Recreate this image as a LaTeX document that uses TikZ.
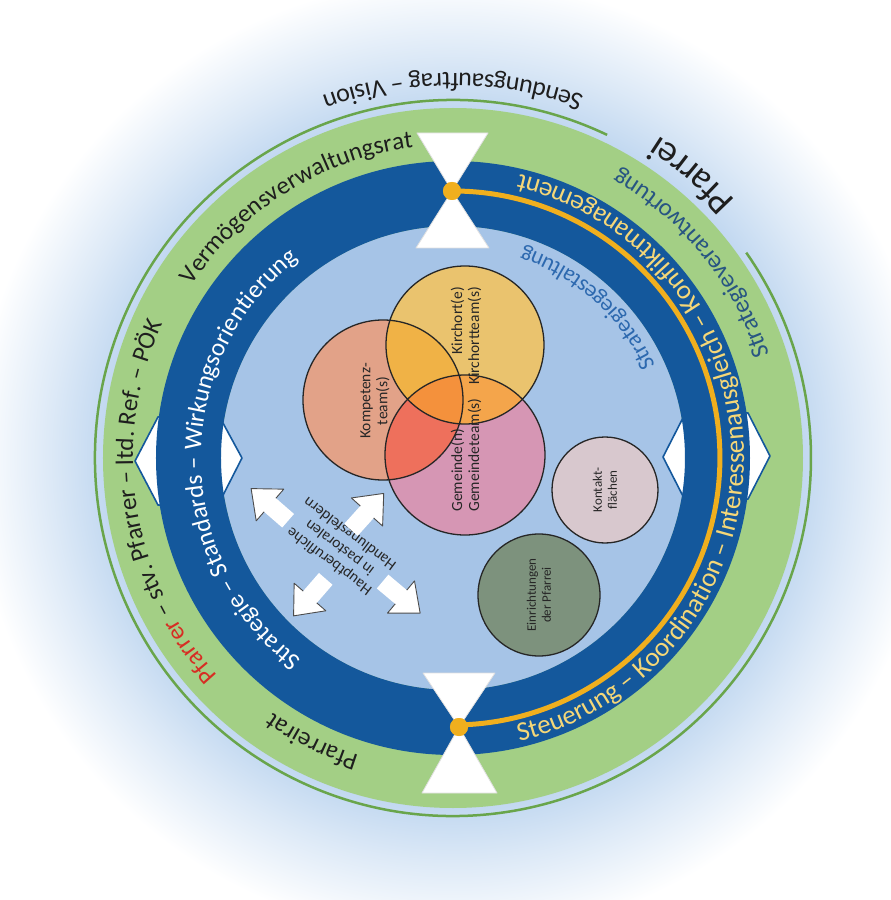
\documentclass[tikz,border=0pt]{standalone}
\usepackage{fontspec}
\setmainfont{Carlito}
\usetikzlibrary{decorations.text}
\definecolor{ringgreen}{RGB}{163,207,133}
\definecolor{ringblue}{RGB}{20,88,156}
\definecolor{innerblue}{RGB}{166,196,231}
\definecolor{linegreen}{RGB}{105,165,75}
\definecolor{goldline}{RGB}{240,175,30}
\definecolor{halo}{RGB}{192,215,240}
\definecolor{txtyellow}{RGB}{245,215,120}
\definecolor{txtblue}{RGB}{45,105,175}
\definecolor{txtteal}{RGB}{40,85,130}
\definecolor{txtdark}{RGB}{30,30,30}
\definecolor{pfred}{RGB}{215,45,35}
\definecolor{cA}{RGB}{226,162,136}
\definecolor{cB}{RGB}{234,195,110}
\definecolor{cC}{RGB}{214,150,180}
\definecolor{cAB}{RGB}{240,178,70}
\definecolor{cAC}{RGB}{238,112,92}
\definecolor{cBC}{RGB}{244,165,75}
\definecolor{cABC}{RGB}{244,145,60}
\definecolor{kontakt}{RGB}{216,200,206}
\definecolor{einr}{RGB}{125,146,125}
\pgfdeclareradialshading{haloshade}{\pgfpoint{0bp}{0bp}}{color(0bp)=(halo); color(18bp)=(halo); color(21bp)=(halo!55!white); color(25bp)=(white); color(50bp)=(white)}
\newcommand\ringfont[1]{\fontsize{#1}{#1}\selectfont}
\newcommand\blockarrow[3]{%
  \begin{scope}[shift={(#1pt,#2pt)}, rotate=#3]
    \fill[white] (-24pt,-9pt) -- (0pt,-9pt) -- (0pt,-21pt) -- (25pt,0pt) -- (0pt,21pt) -- (0pt,9pt) -- (-24pt,9pt) -- cycle;
    \draw[black!70, line width=0.9pt, line join=round] (0pt,-9pt) -- (0pt,-21pt) -- (25pt,0pt) -- (0pt,21pt) -- (0pt,9pt);
  \end{scope}}
\tikzset{
  sidemark/.style={fill=white, draw=ringblue, line width=1.6pt, line join=round},
  glass/.style={fill=white, draw=black!12, line width=0.8pt, line join=round},
  golddot/.style={circle, fill=goldline, minimum size=18pt, inner sep=0pt},
  venn/.style={circle, draw=black!85, line width=1.3pt, inner sep=0pt},
  vlabel/.style={rotate=90, align=center, text=black!85, font=\fontsize{15.5pt}{17pt}\selectfont},
  slabel/.style={rotate=90, align=center, text=black!85, font=\fontsize{13pt}{15pt}\selectfont},
  arctext/.style={decorate, decoration={text along path, text align=center, text={#1}}}
}
\begin{document}
\begin{tikzpicture}
\useasboundingbox (-453pt,-442pt) rectangle (438pt,458pt);
\fill[white] (-453pt,-442pt) rectangle (438pt,458pt);
\shade[shading=haloshade] (0,0) circle[radius=480pt];
% thin outer green line
\draw[linegreen, line width=2.5pt] (64.5:358pt) arc[start angle=64.5, end angle=395, radius=358pt];
% rings
\fill[ringgreen] (0,0) circle[radius=350pt];
\fill[innerblue] (0,0) circle[radius=232pt];
% side marks
\path[sidemark] (317pt,2pt) -- (295pt,45pt) -- (234pt,48pt) -- (210pt,1pt) -- (234pt,-46pt) -- (295pt,-41pt) -- cycle;
\path[sidemark] (-318pt,-3pt) -- (-295pt,41pt) -- (-236pt,46pt) -- (-211pt,0pt) -- (-236pt,-49pt) -- (-295pt,-47pt) -- cycle;
\fill[ringblue, even odd rule] (0,0) circle[radius=297pt] (0,0) circle[radius=232pt];
% hourglasses
\path[glass] (-36pt,325pt) -- (35pt,325pt) -- (-1pt,267pt) -- cycle;
\path[glass] (-1pt,267pt) -- (-37pt,210pt) -- (36pt,210pt) -- cycle;
\path[glass] (-30pt,-215pt) -- (42pt,-215pt) -- (6pt,-269pt) -- cycle;
\path[glass] (6pt,-269pt) -- (-31pt,-335pt) -- (44pt,-335pt) -- cycle;
% gold line and dots
\node[golddot] (topdot) at (-1pt,267pt) {};
\node[golddot] (botdot) at (6pt,-269pt) {};
\draw[goldline, line width=5pt] (topdot.center) arc[start angle=90.2, end angle=-88.7, radius=267pt];
\node[golddot] at (topdot) {};
\node[golddot] at (botdot) {};
% texts along the rings
\path[arctext={|\ringfont{25pt}\color{white}|Strategie – Standards – Wirkungsorientierung}] (258:252pt) arc[start angle=258, end angle=103, radius=252pt];
\path[arctext={|\ringfont{27pt}\color{txtyellow}|Steuerung – Koordination – Interessenausgleich – Konfliktmanagement}] (-86:291pt) arc[start angle=-86, end angle=86, radius=291pt];
\path[arctext={|\ringfont{25pt}\color{pfred}|Pfarrer|\ringfont{25pt}\color{txtdark}| – stv. Pfarrer – ltd. Ref. – PÖK}] (230:320pt) arc[start angle=230, end angle=148, radius=320pt];
\path[arctext={|\ringfont{25pt}\color{txtdark}|Vermögensverwaltungsrat}] (150:313pt) arc[start angle=150, end angle=93.8, radius=313pt];
\path[arctext={|\ringfont{25pt}\color{txtdark}|Pfarreirat}] (255:312pt) arc[start angle=255, end angle=232, radius=312pt];
\path[arctext={|\ringfont{25pt}\color{txtteal}|Strategieverantwortung}] (10:333pt) arc[start angle=10, end angle=68, radius=333pt];
\path[arctext={|\ringfont{23pt}\color{txtblue}|Strategiegestaltung}] (18:222pt) arc[start angle=18, end angle=78, radius=222pt];
\path[arctext={|\ringfont{26pt}\color{txtdark}|Sendungsauftrag – Vision}] (60:385pt) arc[start angle=60, end angle=120, radius=385pt];
\path[arctext={|\ringfont{37pt}\color{txtdark}|Pfarrei}] (35:382pt) arc[start angle=35, end angle=65, radius=382pt];
% venn circles
\def\pathA{(-70pt,58pt) circle[radius=80pt]}
\def\pathB{(12pt,113pt) circle[radius=79pt]}
\def\pathC{(12pt,3pt) circle[radius=80pt]}
\fill[cA] \pathA;
\fill[cB] \pathB;
\fill[cC] \pathC;
\begin{scope}
  \clip \pathB;
  \fill[cBC] \pathC;
\end{scope}
\begin{scope}
  \clip \pathA;
  \fill[cAB] \pathB;
  \fill[cAC] \pathC;
  \clip \pathB;
  \fill[cABC] \pathC;
\end{scope}
\node[venn, minimum size=160pt] (komp) at (-70pt,58pt) {};
\node[venn, minimum size=158pt] (kirch) at (12pt,113pt) {};
\node[venn, minimum size=160pt] (gem) at (12pt,3pt) {};
\node[venn, fill=kontakt, minimum size=106pt] (kont) at (152pt,-32pt) {};
\node[venn, fill=einr, minimum size=122pt] (einr) at (86pt,-137pt) {};
\node[vlabel] (kompt) at (-78pt,57pt) {Kompetenz-\\team(s)};
\node[vlabel, align=right] (kirt) at (13pt,122pt) {Kirchort(e)\\Kirchortteam(s)};
\node[vlabel, align=left] (gemt) at (13pt,3pt) {Gemeinde(n)\\Gemeindeteam(s)};
\node[slabel] (kontt) at (152pt,-32pt) {Kontakt-\\flächen};
\node[slabel] (einrt) at (86pt,-137pt) {Einrichtungen\\der Pfarrei};
% Hauptberufliche
\node[rotate=143, align=center, text=black!85, font=\fontsize{15.5pt}{17pt}\selectfont] (haupt) at (-113pt,-89pt) {Hauptberufliche\\in pastoralen\\Handlungsfeldern};
\blockarrow{-183}{-47}{139}
\blockarrow{-86}{-54}{48}
\blockarrow{-143}{-139}{229}
\blockarrow{-52}{-139}{320}
\end{tikzpicture}
\end{document}
